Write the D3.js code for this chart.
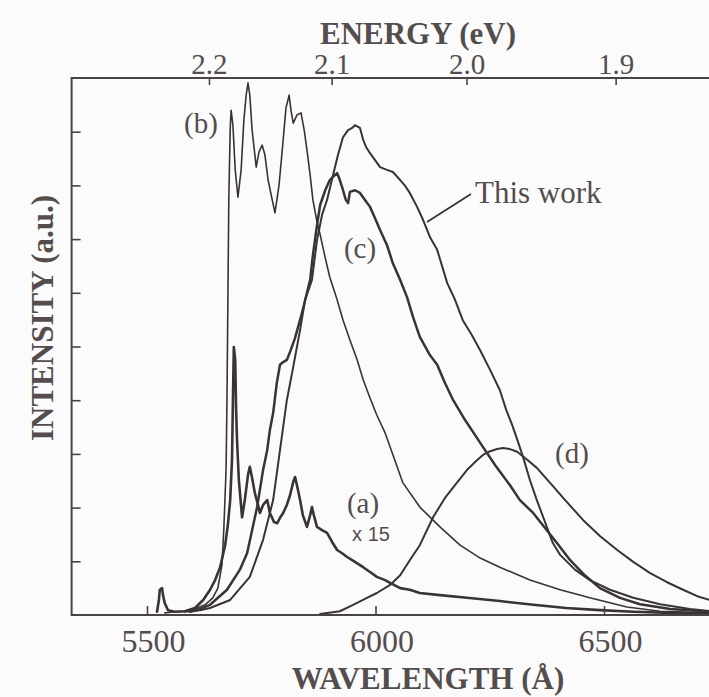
<!DOCTYPE html>
<html>
<head>
<meta charset="utf-8">
<script src="https://cdn.jsdelivr.net/npm/d3@7"></script>
<style>
  html, body { margin: 0; padding: 0; background: #fcfbfb; }
  svg { display: block; }
</style>
</head>
<body>
<svg id="chart" width="709" height="697"></svg>
<script>
// ---- Axis ticks ----
const wavelengthTicks = [5500, 6000, 6500];
const energyTicks = [2.2, 2.1, 2.0, 1.9];
const energyTickLabels = ["2.2", "2.1", "2.0", "1.9"];
const intensityTicks = [1, 2, 3, 4, 5, 6, 7, 8, 9];
const HC = 12398.4; // eV·Å

// ---- Spectra: wavelength (Å) and intensity (a.u.) ----
// (a) ×15
const aWavelength = [5522,5526,5528,5533,5535,5539,5546,5561,5583,5605,5623,5638,5649,5660,5671,5677,5682,5686,5688,5690,5693,5695,5697,5701,5708,5714,5721,5725,5730,5736,5743,5747,5754,5763,5769,5778,5785,5791,5798,5806,5813,5820,5824,5828,5835,5841,5850,5857,5861,5865,5872,5883,5894,5905,5916,5927,5938,5955,5973,5988,6003,6021,6032,6054,6075,6097,6141,6200,6272,6345,6417,6491,6564,6645,6735];
const aIntensity  = [0.06,0.28,0.47,0.50,0.37,0.22,0.09,0.06,0.07,0.13,0.28,0.47,0.65,0.89,1.30,1.68,2.14,2.89,4.00,4.99,4.75,3.82,3.26,2.51,1.82,2.14,2.61,2.76,2.55,2.27,2.05,1.90,2.05,2.14,1.90,1.73,1.71,1.81,1.90,2.05,2.23,2.48,2.57,2.42,2.14,1.86,1.64,1.86,2.01,1.86,1.64,1.58,1.53,1.36,1.21,1.15,1.08,0.99,0.89,0.80,0.71,0.65,0.60,0.50,0.47,0.41,0.37,0.32,0.26,0.19,0.13,0.09,0.06,0.04,0.02];

// (b)
const bWavelength = [5539,5561,5583,5605,5627,5644,5655,5664,5668,5673,5675,5677,5679,5682,5684,5688,5693,5699,5706,5712,5717,5721,5725,5730,5739,5745,5752,5758,5765,5774,5780,5789,5798,5804,5811,5815,5820,5828,5837,5844,5850,5857,5863,5872,5879,5890,5900,5916,5929,5944,5960,5973,5988,6003,6021,6032,6060,6097,6141,6185,6229,6272,6338,6404,6469,6550,6623,6735];
const bIntensity  = [0.04,0.06,0.07,0.11,0.19,0.32,0.50,0.93,1.58,2.70,4.00,5.87,7.73,9.03,9.40,9.12,8.29,7.78,8.29,9.22,9.68,9.91,9.68,9.03,8.34,8.62,8.75,8.57,8.10,7.73,7.49,8.01,8.85,9.44,9.68,9.40,9.16,9.31,9.35,9.03,8.66,8.19,7.73,7.32,7.08,6.65,6.29,5.87,5.49,5.12,4.75,4.38,4.04,3.72,3.39,3.13,2.46,2.01,1.64,1.30,1.06,0.89,0.65,0.47,0.32,0.15,0.07,0.04];

// (c)
const cWavelength = [5594,5609,5638,5675,5703,5719,5730,5741,5754,5763,5769,5776,5784,5791,5798,5806,5813,5824,5839,5850,5857,5863,5872,5879,5890,5900,5907,5916,5922,5929,5935,5940,5944,5955,5966,5977,5988,5999,6010,6025,6038,6054,6069,6082,6097,6119,6135,6152,6170,6196,6218,6235,6262,6294,6316,6345,6371,6397,6426,6458,6491,6535,6579,6645,6735];
const cIntensity  = [0.06,0.09,0.19,0.47,0.84,1.15,1.58,2.01,2.70,3.07,3.45,3.76,4.32,4.66,4.71,4.75,4.90,5.16,5.62,6.00,6.24,6.70,7.26,7.64,7.91,8.10,8.16,8.23,8.10,7.91,7.73,7.67,7.88,7.91,7.86,7.73,7.60,7.39,7.17,6.89,6.55,6.24,5.92,5.55,5.18,4.84,4.66,4.32,4.00,3.63,3.35,3.13,2.79,2.42,2.14,1.90,1.62,1.34,1.02,0.74,0.50,0.32,0.20,0.11,0.06];

// This work
const twWavelength = [5583,5616,5638,5682,5725,5754,5776,5791,5806,5820,5835,5846,5861,5872,5883,5894,5907,5918,5929,5940,5949,5955,5962,5966,5973,5979,5988,5999,6010,6025,6038,6054,6065,6075,6091,6104,6119,6135,6157,6174,6191,6211,6229,6251,6272,6286,6299,6312,6323,6338,6353,6371,6388,6404,6437,6469,6513,6564,6623,6688,6735];
const twIntensity  = [0.06,0.09,0.13,0.28,0.71,1.40,2.14,3.07,4.00,4.62,5.31,5.87,6.24,6.98,7.45,7.73,8.19,8.57,8.90,9.03,9.07,9.12,9.09,9.07,8.85,8.72,8.60,8.47,8.34,8.29,8.25,8.10,7.99,7.86,7.60,7.36,7.04,6.80,6.18,5.87,5.49,5.21,4.93,4.56,4.19,3.82,3.54,3.22,2.94,2.51,2.14,1.73,1.34,1.12,0.84,0.65,0.47,0.32,0.20,0.11,0.07];

// (d)
const dWavelength = [5879,5922,5951,5977,6003,6032,6054,6075,6097,6126,6152,6174,6200,6218,6235,6251,6266,6279,6294,6310,6332,6353,6382,6415,6454,6491,6529,6564,6601,6638,6673,6704,6735];
const dIntensity  = [0.02,0.07,0.19,0.30,0.41,0.56,0.74,1.02,1.30,1.82,2.18,2.42,2.70,2.85,2.98,3.05,3.09,3.11,3.09,3.04,2.89,2.74,2.46,2.14,1.77,1.47,1.21,0.99,0.78,0.61,0.47,0.35,0.27];

// ---- Layout ----
const svg = d3.select("#chart");
const W = 709, H = 697;
const ink = "#3a3333";
const textInk = "#544d4d";
const serif = "'Liberation Serif', 'Times New Roman', serif";

svg.append("rect").attr("width", W).attr("height", H).attr("fill", "#fcfbfb");

const x = d3.scaleLinear().domain([5500, 6500]).range([147, 604]);
const y = d3.scaleLinear().domain([0, 10]).range([615, 78]);
const wlMin = 5335, wlMax = 6750;

const plotLeft = x(wlMin), plotRight = x(wlMax);
const plotTop = y(10), plotBottom = y(0);

svg.append("clipPath").attr("id", "plot-clip")
  .append("rect")
  .attr("x", plotLeft).attr("y", plotTop)
  .attr("width", plotRight - plotLeft).attr("height", plotBottom - plotTop);

// ---- Spectra ----
const series = [
  { wl: dWavelength,  v: dIntensity,  w: 2.0 },
  { wl: aWavelength,  v: aIntensity,  w: 2.6 },
  { wl: bWavelength,  v: bIntensity,  w: 1.6 },
  { wl: twWavelength, v: twIntensity, w: 2.0 },
  { wl: cWavelength,  v: cIntensity,  w: 2.5 }
];

const line = d3.line()
  .x(d => x(d[0]))
  .y(d => y(d[1]))
  .curve(d3.curveLinear);

const curves = svg.append("g").attr("clip-path", "url(#plot-clip)");
series.forEach(s => {
  curves.append("path")
    .datum(s.wl.map((w, i) => [w, s.v[i]]))
    .attr("d", line)
    .attr("fill", "none")
    .attr("stroke", ink)
    .attr("stroke-width", s.w)
    .attr("stroke-linejoin", "round")
    .attr("stroke-linecap", "round");
});

// ---- Frame ----
svg.append("rect")
  .attr("x", plotLeft).attr("y", plotTop)
  .attr("width", plotRight - plotLeft).attr("height", plotBottom - plotTop)
  .attr("fill", "none").attr("stroke", "#4a4343").attr("stroke-width", 2);

// ---- Axes ----
function styleAxis(g, fontSize) {
  g.select(".domain").remove();
  g.selectAll(".tick line").attr("stroke", "#4a4343").attr("stroke-width", 1.6);
  g.selectAll(".tick text")
    .attr("fill", textInk)
    .style("font-family", serif)
    .style("font-size", fontSize + "px");
}

const bottomAxis = svg.append("g")
  .attr("transform", `translate(0,${plotBottom})`)
  .call(d3.axisBottom(x).tickValues(wavelengthTicks).tickSize(-9).tickPadding(14).tickFormat(d3.format("d")));
styleAxis(bottomAxis, 32);
bottomAxis.selectAll(".tick text").attr("dx", 6);

const topAxis = svg.append("g")
  .attr("transform", `translate(0,${plotTop})`)
  .call(d3.axisTop(x)
    .tickValues(energyTicks.map(e => HC / e))
    .tickSize(-7).tickPadding(4)
    .tickFormat((d, i) => energyTickLabels[i]));
styleAxis(topAxis, 29);

const leftAxis = svg.append("g")
  .attr("transform", `translate(${plotLeft},0)`)
  .call(d3.axisLeft(y).tickValues(intensityTicks).tickSize(-9).tickFormat(""));
styleAxis(leftAxis, 10);

// ---- Axis titles ----
const titleStyle = sel => sel
  .attr("fill", textInk)
  .attr("text-anchor", "middle")
  .style("font-family", serif)
  .style("font-weight", "bold")
  .style("font-size", "31px");

svg.append("text").attr("x", 418).attr("y", 44).call(titleStyle).text("ENERGY (eV)");
svg.append("text").attr("x", 428).attr("y", 689).call(titleStyle).text("WAVELENGTH (Å)");
svg.append("text").attr("transform", "translate(53,318) rotate(-90)").call(titleStyle).text("INTENSITY (a.u.)");

// ---- Curve labels ----
const labels = [
  { t: "(b)", x: 201, y: 133 },
  { t: "(c)", x: 360, y: 258 },
  { t: "(a)", x: 363, y: 513 },
  { t: "(d)", x: 572, y: 463 }
];
labels.forEach(l => {
  svg.append("text")
    .attr("x", l.x).attr("y", l.y)
    .attr("text-anchor", "middle")
    .attr("fill", textInk)
    .style("font-family", serif).style("font-size", "29px")
    .text(l.t);
});

svg.append("text")
  .attr("x", 371).attr("y", 541)
  .attr("text-anchor", "middle")
  .attr("fill", textInk)
  .style("font-family", "'Liberation Sans', Arial, sans-serif").style("font-size", "20px")
  .text("x 15");

svg.append("text")
  .attr("x", 475).attr("y", 203)
  .attr("fill", textInk)
  .style("font-family", serif).style("font-size", "31px")
  .text("This work");

svg.append("line")
  .attr("x1", 427).attr("y1", 222).attr("x2", 471).attr("y2", 194)
  .attr("stroke", ink).attr("stroke-width", 1.8);
</script>
</body>
</html>
